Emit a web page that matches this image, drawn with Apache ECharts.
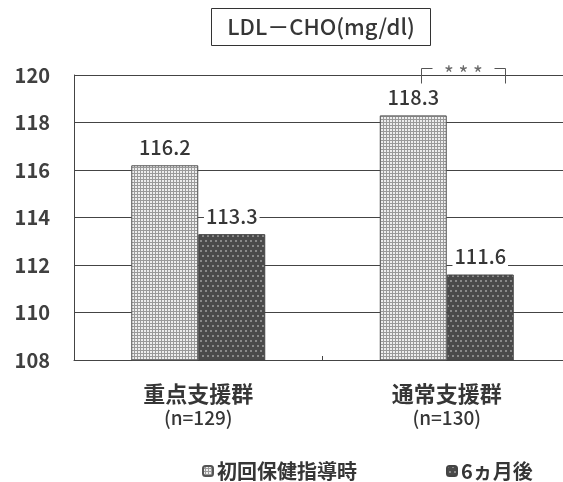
<!DOCTYPE html>
<html>
<head>
<meta charset="utf-8">
<style>
  html, body { margin: 0; padding: 0; background: #fff; }
  #chart { width: 563px; height: 482px; }
</style>
<script src="https://cdn.jsdelivr.net/npm/echarts@6/dist/echarts.min.js"></script>
</head>
<body>
<div id="chart"></div>
<script>
// LDL cholesterol by support group, at first guidance and after six months
const groupNames = ['重点支援群', '通常支援群'];
const groupSizes = ['(n=129)', '(n=130)'];
const seriesNames = ['初回保健指導時', '6ヵ月後'];
const initialValues = [116.2, 118.3];
const sixMonthValues = [113.3, 111.6];
const significance = ['', '* * *'];
const titleText = 'LDL－CHO(mg/dl)';
const yMin = 108, yMax = 120, yStep = 2;

const categories = groupNames.map((n, i) => n + '\n' + groupSizes[i]);

// dotted fill textures for the two bar series
function makePattern(size, bg, dot, dotSize, stagger) {
  const c = document.createElement('canvas');
  c.width = size; c.height = size * (stagger ? 2 : 1);
  const g = c.getContext('2d');
  g.fillStyle = bg; g.fillRect(0, 0, c.width, c.height);
  g.fillStyle = dot;
  g.fillRect(0, 0, dotSize, dotSize);
  if (stagger) g.fillRect(Math.floor(size / 2), size, dotSize, dotSize);
  return c;
}
const lightFill = { image: makePattern(3, '#9a9a9a', '#eeeeee', 2, false), repeat: 'repeat' };
const darkFill = { image: makePattern(5, '#4a4a4a', '#8a8a8a', 2, true), repeat: 'repeat' };

const jpFont = '"Noto Sans CJK JP", "Noto Sans", sans-serif';
const ink = '#363636';

const chart = echarts.init(document.getElementById('chart'), null, { renderer: 'canvas' });

const legendText = { fontFamily: jpFont, fontSize: 20, fontWeight: 'bold', color: ink, padding: [0, 0, 0, -1] };
const valueLabel = {
  show: true, position: 'top', distance: 8,
  fontFamily: jpFont, fontSize: 20, fontWeight: 500, color: ink,
  backgroundColor: '#fff', padding: [0, 2]
};

chart.setOption({
  animation: false,
  backgroundColor: '#fff',
  legend: [
    { data: [seriesNames[0]], left: 197, top: 456, itemWidth: 10, itemHeight: 10, textStyle: legendText },
    { data: [seriesNames[1]], left: 441, top: 456, itemWidth: 10, itemHeight: 10, textStyle: legendText }
  ],
  grid: { left: 74, top: 75, width: 497, height: 285, containLabel: false, outerBoundsMode: 'none' },
  xAxis: {
    type: 'category',
    data: categories,
    axisLine: { lineStyle: { color: '#444', width: 1 } },
    axisTick: { show: true, inside: true, length: 4, lineStyle: { color: '#444' } },
    axisLabel: {
      margin: 21,
      formatter: v => {
        const [name, n] = v.split('\n');
        return '{name|' + name + '}\n{n|' + n + '}';
      },
      rich: {
        name: { fontFamily: jpFont, fontSize: 22, fontWeight: 'bold', color: ink, lineHeight: 26 },
        n: { fontFamily: jpFont, fontSize: 19, fontWeight: 500, color: ink, lineHeight: 22 }
      }
    }
  },
  yAxis: {
    type: 'value',
    min: yMin, max: yMax, interval: yStep,
    axisLine: { show: true, lineStyle: { color: '#444', width: 1 } },
    axisTick: { show: false },
    axisLabel: { margin: 24, fontFamily: jpFont, fontSize: 20, fontWeight: 'bold', color: '#404040' },
    splitLine: { lineStyle: { color: '#444', width: 1 } }
  },
  series: [
    {
      name: seriesNames[0], type: 'bar', data: initialValues,
      barWidth: 67, barGap: '0%',
      itemStyle: { color: lightFill, borderColor: '#555', borderWidth: 1 },
      label: valueLabel
    },
    {
      name: seriesNames[1], type: 'bar', data: sixMonthValues,
      barWidth: 67,
      itemStyle: { color: darkFill, borderColor: '#444', borderWidth: 1 },
      label: valueLabel
    }
  ]
});

// boxed title and significance brackets
function drawOverlays() {
  const elements = [
    {
      type: 'rect',
      shape: { x: 211.5, y: 8.5, width: 219, height: 37 },
      style: { fill: '#fff', stroke: '#333', lineWidth: 1 }
    },
    {
      type: 'text',
      x: 321, y: 27,
      style: {
        text: titleText, fill: ink, fontSize: 22, fontWeight: 500, fontFamily: jpFont,
        align: 'center', verticalAlign: 'middle'
      }
    }
  ];
  significance.forEach((mark, i) => {
    if (!mark) return;
    const [cx] = chart.convertToPixel({ gridIndex: 0 }, [i, yMax]);
    const topY = Math.round(chart.convertToPixel({ yAxisIndex: 0 }, yMax)) - 6.5;
    const left = Math.round(cx) - 25.5, right = Math.round(cx) + 58.5;
    elements.push({
      type: 'polyline',
      shape: { points: [[left, topY + 15], [left, topY], [left + 11, topY]] },
      style: { stroke: '#555', lineWidth: 1, fill: null }
    });
    elements.push({
      type: 'polyline',
      shape: { points: [[right - 11, topY], [right, topY], [right, topY + 15]] },
      style: { stroke: '#555', lineWidth: 1, fill: null }
    });
    elements.push({
      type: 'text',
      x: (left + right) / 2, y: topY + 6,
      style: {
        text: mark, fill: '#6a6a6a', fontSize: 21, fontFamily: jpFont,
        align: 'center', verticalAlign: 'middle'
      }
    });
  });
  chart.setOption({ graphic: elements });
}
drawOverlays();
</script>
</body>
</html>
